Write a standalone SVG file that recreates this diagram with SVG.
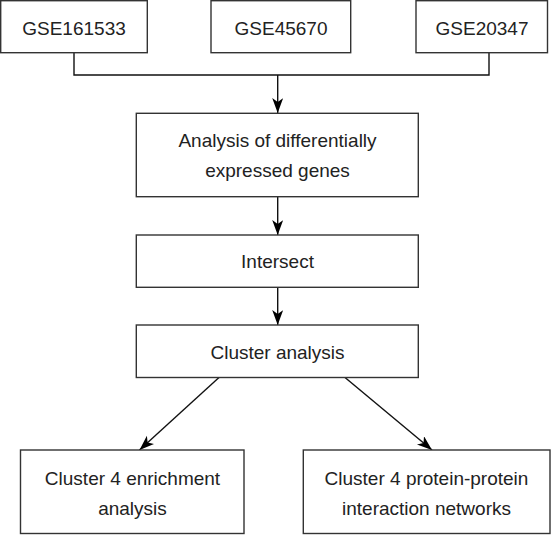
<svg xmlns="http://www.w3.org/2000/svg" width="551" height="535" viewBox="0 0 551 535">
<style>
.box{fill:#fff;stroke:#333;stroke-width:1.4}
.t{font-family:"Liberation Sans",Arial,sans-serif;font-size:19px;fill:#222;text-anchor:middle}
.c{fill:none;stroke:#111;stroke-width:1.4}
</style>
<defs>
<marker id="ah" markerUnits="userSpaceOnUse" markerWidth="16" markerHeight="12" refX="15" refY="5.5" orient="auto">
<path d="M0,0 L15,5.5 L0,11 L4,5.5 z" fill="#000"/>
</marker>
</defs>
<rect width="551" height="535" fill="#fff"/>
<g id="connectors">
<path class="c" d="M74,52.7 V75 H489 V52.7"/>
<path class="c" d="M277.7,75 V113" marker-end="url(#ah)"/>
<path class="c" d="M277.7,196.7 V235" marker-end="url(#ah)"/>
<path class="c" d="M277.7,287.3 V325" marker-end="url(#ah)"/>
<path class="c" d="M219,377.5 L139.5,450" marker-end="url(#ah)"/>
<path class="c" d="M345,377.5 L432,450" marker-end="url(#ah)"/>
</g>
<g id="n1"><rect class="box" x="0.7" y="0.7" width="146.6" height="52"/><text class="t" x="74" y="34.5">GSE161533</text></g>
<g id="n2"><rect class="box" x="211" y="0.7" width="139.7" height="52"/><text class="t" x="281" y="34.5">GSE45670</text></g>
<g id="n3"><rect class="box" x="416" y="0.7" width="131.5" height="52"/><text class="t" x="482" y="34.5">GSE20347</text></g>
<g id="n4"><rect class="box" x="136.3" y="113.3" width="282" height="83.4"/><text class="t" x="277.5" y="147">Analysis of differentially</text><text class="t" x="277.5" y="177">expressed genes</text></g>
<g id="n5"><rect class="box" x="136.3" y="235" width="282" height="52.3"/><text class="t" x="277.5" y="268">Intersect</text></g>
<g id="n6"><rect class="box" x="136.3" y="325" width="282" height="52.5"/><text class="t" x="277.5" y="359">Cluster analysis</text></g>
<g id="n7"><rect class="box" x="20.5" y="450" width="223.5" height="83.5"/><text class="t" x="132.5" y="485">Cluster 4 enrichment</text><text class="t" x="132.5" y="515">analysis</text></g>
<g id="n8"><rect class="box" x="303.3" y="450" width="246.7" height="83.5"/><text class="t" x="426.5" y="485">Cluster 4 protein-protein</text><text class="t" x="426.5" y="515">interaction networks</text></g>
</svg>
